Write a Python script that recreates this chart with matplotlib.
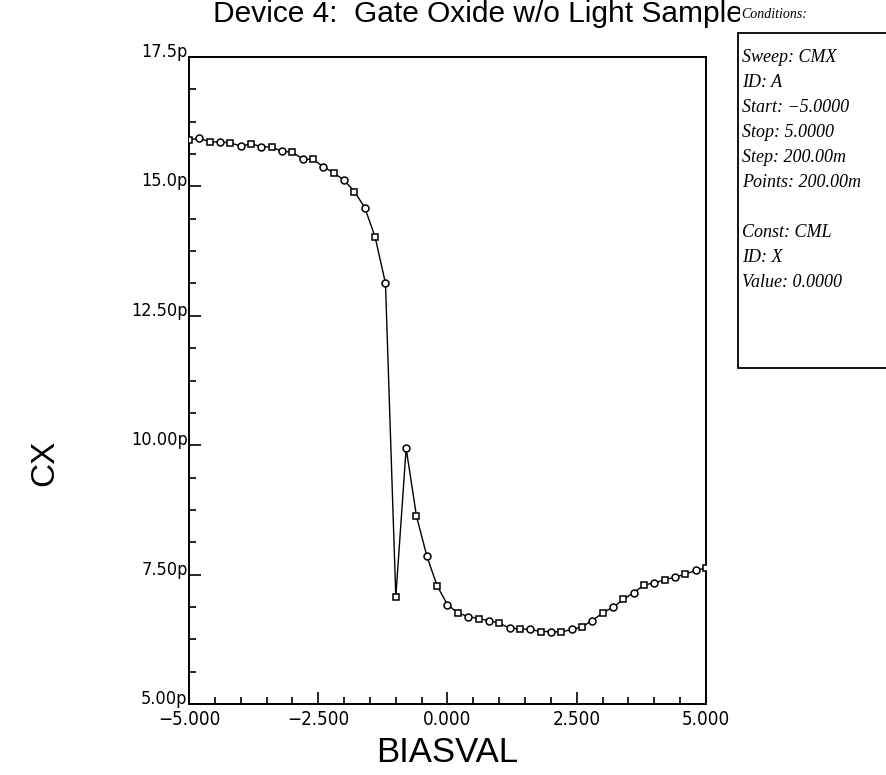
import numpy as np
import matplotlib
matplotlib.use("Agg")
import matplotlib.pyplot as plt
from matplotlib.patches import Rectangle
from matplotlib.ticker import FixedLocator, FixedFormatter, MultipleLocator

# --- Sweep data: bias voltage (V) vs capacitance (pF) ---
bias = np.round(np.arange(-5.0, 5.0001, 0.2), 2)
cx_pf = [
    15.90, 15.93, 15.86, 15.86, 15.84, 15.78, 15.82, 15.77, 15.76, 15.68,
    15.66, 15.53, 15.52, 15.38, 15.26, 15.12, 14.90, 14.59, 14.02, 13.13,
    7.07, 9.94, 8.63, 7.86, 7.28, 6.92, 6.76, 6.69, 6.65, 6.61,
    6.56, 6.47, 6.45, 6.44, 6.40, 6.40, 6.39, 6.44, 6.49, 6.61,
    6.76, 6.87, 7.02, 7.15, 7.30, 7.34, 7.40, 7.45, 7.51, 7.58,
    7.63,
]

x_ticks = [-5.0, -2.5, 0.0, 2.5, 5.0]
x_tick_labels = ["\u22125.000", "\u22122.500", "0.000", "2.500", "5.000"]
y_ticks = [5.0, 7.5, 10.0, 12.5, 15.0, 17.5]
y_tick_labels = ["5.00p", "7.50p", "10.00p", "12.50p", "15.0p", "17.5p"]

title_text = "Device 4:  Gate Oxide w/o Light Sample"
cond_header = "Conditions:"
cond_lines = [
    "Sweep: CMX",
    "ID: A",
    "Start: \u22125.0000",
    "Stop: 5.0000",
    "Step: 200.00m",
    "Points: 200.00m",
    "",
    "Const: CML",
    "ID: X",
    "Value: 0.0000",
]

sans = ["Liberation Sans", "DejaVu Sans"]
script = ["Liberation Serif", "DejaVu Serif"]

fig = plt.figure(figsize=(8.86, 7.75), dpi=100)
ax = fig.add_axes([189 / 886, 1 - 704 / 775, (706 - 189) / 886, (704 - 57) / 775])

cx = np.array(cx_pf)
ax.plot(bias, cx, color="black", lw=1.0, zorder=2)
ax.plot(bias[0::2], cx[0::2], ls="none", marker="s", ms=4.3, mfc="white",
        mec="black", mew=1.1, zorder=3)
ax.plot(bias[1::2], cx[1::2], ls="none", marker="o", ms=5.0, mfc="white",
        mec="black", mew=1.1, zorder=3)

ax.set_xlim(-5, 5)
ax.set_ylim(5, 17.5)
ax.xaxis.set_major_locator(FixedLocator(x_ticks))
ax.xaxis.set_major_formatter(FixedFormatter(x_tick_labels))
ax.xaxis.set_minor_locator(MultipleLocator(0.5))
ax.yaxis.set_major_locator(FixedLocator(y_ticks))
ax.yaxis.set_major_formatter(FixedFormatter(y_tick_labels))
ax.yaxis.set_minor_locator(MultipleLocator(0.625))

ax.tick_params(which="both", direction="in", top=False, right=False, width=1.2)
ax.tick_params(which="major", length=8.5)
ax.tick_params(which="minor", length=5)
ax.tick_params(axis="x", which="major", pad=4, labelsize=13.5)
ax.tick_params(axis="y", which="major", pad=1, labelsize=13)
for lab in ax.get_xticklabels() + ax.get_yticklabels():
    lab.set_family("DejaVu Sans")
    lab.set_fontstretch("condensed")
    lab.set_fontweight("light")
for lab in ax.get_yticklabels():
    lab.set_verticalalignment("baseline")

for sp in ax.spines.values():
    sp.set_linewidth(1.4)

ax.set_xlabel("BIASVAL", fontsize=25, family=sans, labelpad=5)
fig.text(45 / 886, 1 - 463 / 775, "CX", fontsize=24, rotation=90,
         ha="center", va="center", family=sans)

fig.text(213 / 886, 1 - 22 / 775, title_text, fontsize=21.5, ha="left",
         va="baseline", family=sans, zorder=1)

# conditions panel on the right
box = Rectangle((738 / 886, 1 - 368 / 775), 0.2, (368 - 33) / 775,
                transform=fig.transFigure, facecolor="white", edgecolor="black",
                lw=1.3, clip_on=False, zorder=5)
fig.patches.append(box)
fig.text(741 / 886, 1 - 14 / 775, cond_header, fontsize=10, style="italic",
         ha="left", va="center", family=script, zorder=6,
         bbox=dict(facecolor="white", edgecolor="none", pad=1))
for i, line in enumerate(cond_lines):
    fig.text(742 / 886, 1 - (57 + i * 25.1) / 775, line, fontsize=13,
             style="italic", ha="left", va="center", family=script, zorder=6)

fig.savefig("out.png", dpi=100)
